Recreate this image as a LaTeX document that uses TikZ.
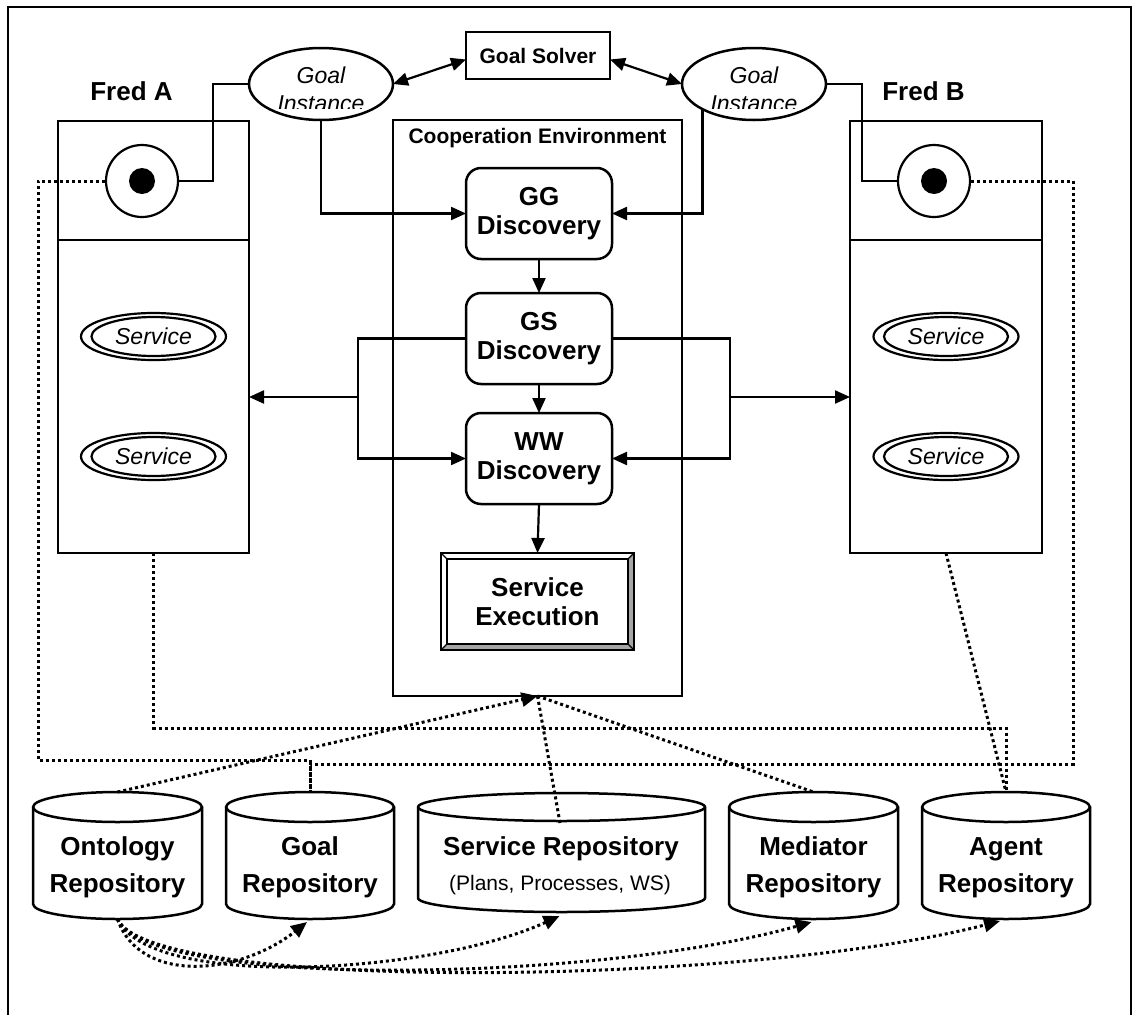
\documentclass[tikz,border=0pt]{standalone}
\usepackage{fontspec}
\setmainfont{Liberation Sans}
\usetikzlibrary{arrows.meta,shapes.geometric,calc}
\newcommand\fsz[2]{\fontsize{#1}{#2}\selectfont}
% repository cylinder: name, left, right, top, bottom, vertical radius
\newcommand\drawrepo[6]{%
  \pgfmathsetmacro\rpcx{(#2+#3)/2}%
  \pgfmathsetmacro\rprx{(#3-#2)/2}%
  \pgfmathsetmacro\rpcy{(#4+#5)/2}%
  \pgfmathsetmacro\rpw{#3-#2}%
  \pgfmathsetmacro\rph{#5-#4}%
  \node[inner sep=0pt, outer sep=0pt, minimum width=\rpw pt, minimum height=\rph pt] (#1) at (\rpcx,\rpcy) {};
  \draw[repoline, fill=white] (#2,#4+#6) -- (#2,#5-#6)
     arc[start angle=180, end angle=0, x radius=\rprx, y radius=#6] -- (#3,#4+#6)
     arc[start angle=0, end angle=-180, x radius=\rprx, y radius=#6] -- cycle;
  \draw[repoline] (#2,#4+#6) arc[start angle=180, end angle=0, x radius=\rprx, y radius=#6];
}
\begin{document}
\begin{tikzpicture}[x=1pt, y=-1pt,
  boxline/.style={draw, line width=2.5pt, inner sep=0pt, outer sep=0pt},
  fred/.style={boxline, minimum width=191pt, minimum height=432pt},
  disc/.style={boxline, fill=white, rounded corners=15pt, minimum width=146pt, minimum height=91pt,
               font=\fsz{26}{29}\bfseries, align=center},
  ginst/.style={ellipse, boxline, fill=white, minimum width=144pt, minimum height=72pt},
  svcout/.style={ellipse, draw, line width=2.2pt, inner sep=0pt, minimum width=145pt, minimum height=47pt},
  svcin/.style={ellipse, draw, line width=2.2pt, inner sep=0pt, minimum width=124pt, minimum height=39pt,
                font=\fsz{23}{27}\itshape},
  port/.style={circle, draw, line width=2.2pt, fill=white, minimum size=72pt, inner sep=0pt},
  portdot/.style={circle, fill=black, minimum size=26pt, inner sep=0pt},
  repoline/.style={line width=2.5pt},
  arr/.style={line width=2.2pt, -{Triangle[length=15pt,width=13pt]}},
  dualarr/.style={line width=2.2pt, {Triangle[length=15pt,width=13pt]}-{Triangle[length=15pt,width=13pt]}},
  plain/.style={line width=2.2pt},
  dotline/.style={line width=3pt, dash pattern=on 3pt off 3pt},
  dotarr/.style={dotline, -{Triangle[length=16pt,width=14pt]}},
  lbl/.style={anchor=base, inner sep=0pt, outer sep=0pt},
  bold26/.style={font=\fsz{26}{29}\bfseries},
  bold21/.style={font=\fsz{21}{25}\bfseries}
]
\useasboundingbox (0,0) rectangle (1133,1015);
\fill[white] (0,0) rectangle (1133,1015);

% outer frame
\draw[line width=2.5pt] (8,1015) -- (8,7) -- (1131,7) -- (1131,1015);

% ---------- agents ----------
\node[fred] (fredA) at (153.5,337) {};
\node[fred, minimum width=192pt] (fredB) at (946,337) {};
\draw[line width=2.5pt] (fredA.west |- 0,240) -- (fredA.east |- 0,240);
\draw[line width=2.5pt] (fredB.west |- 0,240) -- (fredB.east |- 0,240);
\node[lbl, bold26] (fredAlbl) at (131.5,100) {Fred A};
\node[lbl, bold26] (fredBlbl) at (923.5,100) {Fred B};

\node[port] (circA) at (142,181) {};
\node[portdot] (dotA) at (circA) {};
\node[port] (circB) at (934,181) {};
\node[portdot] (dotB) at (circB) {};

\node[svcout] (svcA1o) at (153.5,336.5) {};
\node[svcin] (svcA1) at (153.5,336.5) {Service};
\node[svcout] (svcA2o) at (153.5,456.5) {};
\node[svcin] (svcA2) at (153.5,456.5) {Service};
\node[svcout] (svcB1o) at (946,336.5) {};
\node[svcin] (svcB1) at (946,336.5) {Service};
\node[svcout] (svcB2o) at (946,456.5) {};
\node[svcin] (svcB2) at (946,456.5) {Service};

% ---------- goal solving ----------
\node[boxline, minimum width=144pt, minimum height=47pt, bold21] (solver) at (538,55.5) {Goal Solver};
\node[ginst] (goalA) at (321,84) {};
\node[ginst] (goalB) at (754,84) {};
\begin{scope}
  \clip (245,40) rectangle (830,108);
  \node[lbl, font=\fsz{23}{27}\itshape] (goalAt1) at (321,83) {Goal};
  \node[lbl, font=\fsz{23}{27}\itshape] (goalAt2) at (321,111) {Instance};
  \node[lbl, font=\fsz{23}{27}\itshape] (goalBt1) at (754,83) {Goal};
  \node[lbl, font=\fsz{23}{27}\itshape] (goalBt2) at (754,111) {Instance};
\end{scope}

% ---------- cooperation environment ----------
\node[boxline, minimum width=289pt, minimum height=576pt] (coop) at (537.5,408) {};
\node[lbl, bold21] (cooplbl) at (537.5,143) {Cooperation Environment};
\node[disc] (gg) at (539,213.5) {GG\\Discovery};
\node[disc] (gs) at (539,338.5) {GS\\Discovery};
\node[disc] (ww) at (539,458.5) {WW\\Discovery};

\node[boxline, fill=white, minimum width=193pt, minimum height=97pt, bold26, align=center] (exec) at (537.5,601.5) {Service\\Execution};
\fill[gray!70] (exec.south west) -- (exec.south east) -- ($(exec.south east)+(-6,-6)$) -- ($(exec.south west)+(6,-6)$) -- cycle;
\fill[gray!70] (exec.north east) -- (exec.south east) -- ($(exec.south east)+(-6,-6)$) -- ($(exec.north east)+(-6,6)$) -- cycle;
\draw[line width=2pt] (exec.north west) rectangle (exec.south east);
\draw[line width=2pt] ($(exec.north west)+(6,6)$) rectangle ($(exec.south east)+(-6,-6)$);
\draw[line width=1.2pt] (exec.north west) -- +(6,6) (exec.south west) -- +(6,-6)
                      (exec.north east) -- +(-6,6) (exec.south east) -- +(-6,-6);

% ---------- repositories ----------
\drawrepo{ontoR}{33}{202}{792}{919}{15}
\drawrepo{goalR}{226}{394}{792}{919}{15}
\drawrepo{servR}{418}{705}{793}{912}{14}
\drawrepo{medR}{729}{898}{792}{919}{15}
\drawrepo{agentR}{922}{1090}{792}{919}{15}

\node[lbl, bold26] (ontoL1) at (117.5,855) {Ontology};
\node[lbl, bold26] (ontoL2) at (117.5,892) {Repository};
\node[lbl, bold26] (goalL1) at (310,855) {Goal};
\node[lbl, bold26] (goalL2) at (310,892) {Repository};
\node[lbl, bold26] (servL1) at (561,855) {Service Repository};
\node[lbl, font=\fsz{21}{25}] (servL2) at (560,890) {(Plans, Processes, WS)};
\node[lbl, bold26] (medL1) at (813.5,855) {Mediator};
\node[lbl, bold26] (medL2) at (813.5,892) {Repository};
\node[lbl, bold26] (agentL1) at (1006,855) {Agent};
\node[lbl, bold26] (agentL2) at (1006,892) {Repository};

% ---------- solid connectors ----------
\draw[dualarr] (goalA.east) -- ($(solver.west)+(0,4)$);
\draw[dualarr] ($(solver.east)+(0,4)$) -- (goalB.west);
\draw[plain] (goalA.west) -- ++(-36,0) |- (circA.east);
\draw[plain] (goalB.east) -- ++(36,0) |- (circB.west);
\draw[arr] (goalA.south) |- (gg.west);
\draw[arr] (goalB.206) |- (gg.east);
\draw[arr] (gg.south) -- (gs.north);
\draw[arr] (gs.south) -- (ww.north);
\draw[arr] (ww.south) -- (exec.north);

\coordinate (lbus) at (358,397);
\coordinate (rbus) at (730,397);
\draw[arr] (gs.west) -| (lbus) |- (ww.west);
\draw[arr] (lbus) -- (fredA.east |- lbus);
\draw[arr] (gs.east) -| (rbus) |- (ww.east);
\draw[arr] (rbus) -- (fredB.west |- rbus);

% ---------- dotted links to repositories ----------
\coordinate (loopA) at (38,760);
\coordinate (loopB) at (1073,764);
\coordinate (busA) at (0,728);
\coordinate (servTop) at (560,823);
\draw[dotline] (circA.west) -| (loopA) -| (goalR.north);
\draw[dotline] (circB.east) -| (loopB) -| (goalR.north);
\draw[dotline] (fredA.south) -- (fredA.south |- busA) -| (agentR.north);
\draw[dotline] (fredB.south) -- (agentR.north);
\draw[dotarr] (ontoR.north) -- (coop.south);
\draw[dotline] (coop.south) -- (servTop);
\draw[dotline] (coop.south) -- (medR.north);

\draw[dotarr] (ontoR.south) .. controls (140,985) and (240,975) .. ($(goalR.south)+(-3,3)$);
\draw[dotarr] (ontoR.south) .. controls (150,990) and (430,975) .. ($(servR.south)+(-2,4)$);
\draw[dotarr] (ontoR.south) .. controls (150,990) and (600,982) .. ($(medR.south)+(-2,3)$);
\draw[dotarr] (ontoR.south) .. controls (150,993) and (750,986) .. ($(agentR.south)+(-6,2)$);
\end{tikzpicture}
\end{document}
